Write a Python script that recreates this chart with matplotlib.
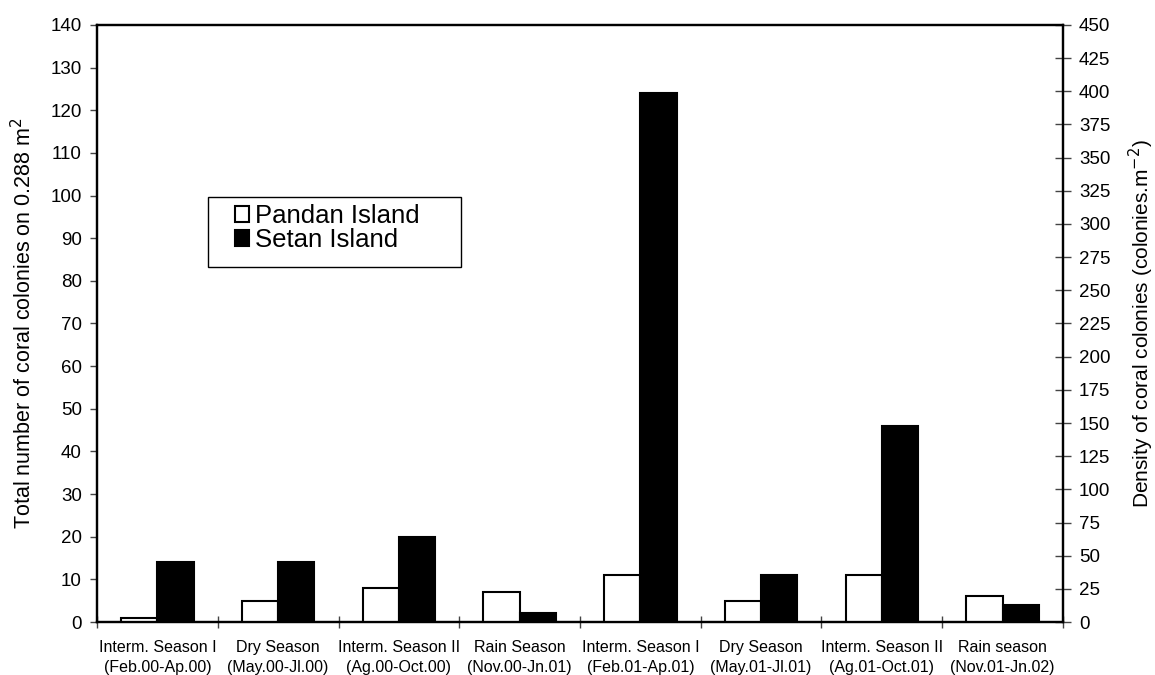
import matplotlib
matplotlib.use("Agg")
import matplotlib.pyplot as plt
from matplotlib.patches import Rectangle
import numpy as np

plt.rcParams['font.family'] = ['Liberation Sans', 'DejaVu Sans']

# data
seasons = ['Interm. Season I\n(Feb.00-Ap.00)', 'Dry Season\n(May.00-Jl.00)',
           'Interm. Season II\n(Ag.00-Oct.00)', 'Rain Season\n(Nov.00-Jn.01)',
           'Interm. Season I\n(Feb.01-Ap.01)', 'Dry Season\n(May.01-Jl.01)',
           'Interm. Season II\n(Ag.01-Oct.01)', 'Rain season\n(Nov.01-Jn.02)']
pandan = [1, 5, 8, 7, 11, 5, 11, 6]
setan = [14, 14, 20, 2, 124, 11, 46, 4]
left_ticks = list(range(0, 141, 10))
right_ticks = list(range(0, 451, 25))

fig = plt.figure(figsize=(11.55, 6.75), dpi=100)
ax = fig.add_axes([0.084, 0.0785, 0.8363, 0.8845])

x = np.arange(len(seasons))
w = 0.30
ax.bar(x - w / 2, pandan, w, color='white', edgecolor='black', linewidth=1.5,
       label='Pandan Island', zorder=3)
ax.bar(x + w / 2, setan, w, color='black', edgecolor='black', linewidth=1.5,
       label='Setan Island', zorder=3)

ax.set_xlim(-0.5, len(seasons) - 0.5)
ax.set_ylim(0, 140)
ax.set_yticks(left_ticks)
ax.tick_params(axis='y', direction='out', length=5, width=1, color='#444444',
               labelsize=13.5, pad=6)

# category labels at centres, tick marks at the boundaries
ax.set_xticks(x)
ax.set_xticklabels(seasons, fontsize=11.5, linespacing=1.4)
ax.tick_params(axis='x', which='major', length=0, pad=13)
ax.set_xticks(np.arange(-0.5, len(seasons)), minor=True)
ax.tick_params(axis='x', which='minor', direction='inout', length=9, width=1,
               color='#444444')

for s in ax.spines.values():
    s.set_linewidth(1.6)

ax.set_ylabel('Total number of coral colonies on 0.288 m$^2$', fontsize=15.5,
              labelpad=10)

ax2 = ax.twinx()
ax2.set_ylim(0, 450)
ax2.set_yticks(right_ticks)
ax2.tick_params(axis='y', direction='inout', length=11, width=1, color='#444444',
                labelsize=13.5, pad=6)
for s in ax2.spines.values():
    s.set_linewidth(1.6)
ax2.set_ylabel('Density of coral colonies (colonies.m$^{-2}$)', fontsize=15,
               labelpad=12)

# legend box
ax.add_patch(Rectangle((0.115, 0.595), 0.262, 0.117, transform=ax.transAxes,
                       facecolor='white', edgecolor='black', linewidth=1,
                       zorder=4))
leg = ax.legend(loc='upper left', bbox_to_anchor=(0.143, 0.700), frameon=False,
                fontsize=18.5, handlelength=0.55, handleheight=0.55,
                handletextpad=0.22, labelspacing=0.0, borderpad=0,
                borderaxespad=0)
leg.set_zorder(5)

fig.savefig('out.png', dpi=100)
